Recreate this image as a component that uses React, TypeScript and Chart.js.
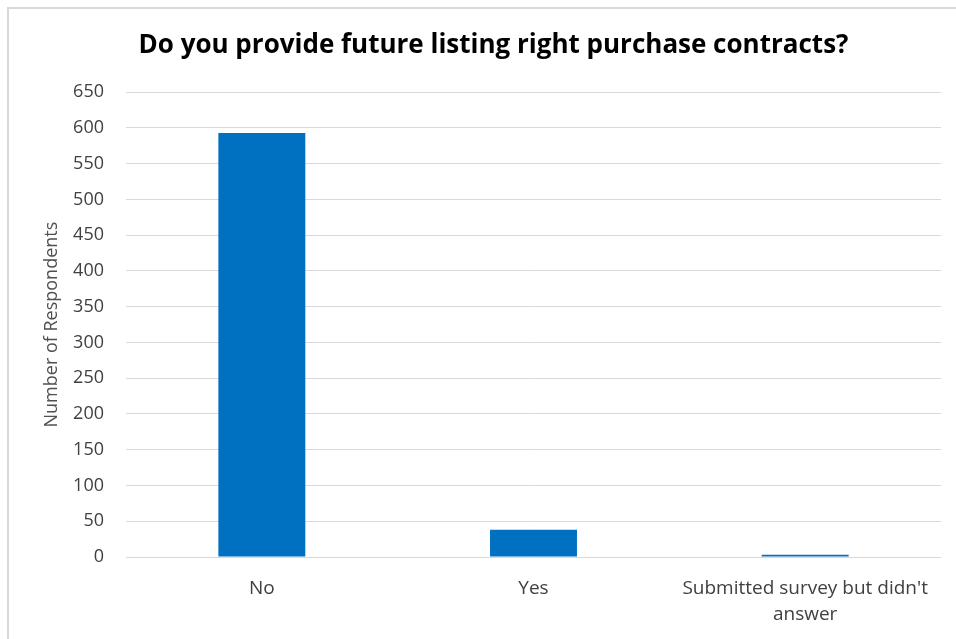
import React, { useEffect, useRef } from "react";
import { Chart, registerables } from "chart.js";

Chart.register(...registerables);

const categories: (string | string[])[] = ["No", "Yes", ["Submitted survey but didn't", "answer"]];
const respondents: number[] = [593, 38, 3];
const chartTitle = "Do you provide future listing right purchase contracts?";
const yAxisTitle = "Number of Respondents";
const yMin = 0;
const yMax = 650;
const yStep = 50;

export default function App() {
  const canvasRef = useRef<HTMLCanvasElement | null>(null);

  useEffect(() => {
    if (!canvasRef.current) return;
    const chart = new Chart(canvasRef.current, {
      type: "bar",
      data: {
        labels: categories,
        datasets: [
          {
            data: respondents,
            backgroundColor: "#0070C0",
            borderWidth: 0,
            barPercentage: 0.32,
            categoryPercentage: 1,
          },
        ],
      },
      options: {
        animation: false,
        responsive: true,
        maintainAspectRatio: false,
        layout: { padding: { left: 46, right: 15, top: 0, bottom: 0 } },
        plugins: {
          legend: { display: false },
          tooltip: { enabled: false },
          title: {
            display: true,
            text: chartTitle,
            color: "#000000",
            font: { family: "'Open Sans', sans-serif", size: 26, weight: "bold", lineHeight: 1.2 },
            padding: { top: 30, bottom: 31 },
          },
        },
        scales: {
          x: {
            grid: { display: false, drawTicks: false },
            border: { display: false },
            ticks: {
              color: "#404040",
              font: { family: "'Open Sans', sans-serif", size: 19, lineHeight: 1.37 },
              padding: 19,
              maxRotation: 0,
              autoSkip: false,
            },
            afterFit: (scale: any) => {
              scale.height = 82;
            },
          },
          y: {
            min: yMin,
            max: yMax,
            ticks: {
              stepSize: yStep,
              color: "#404040",
              font: { family: "'Open Sans', sans-serif", size: 18 },
              padding: 22,
            },
            grid: { color: "#d9d9d9", lineWidth: 1, drawTicks: false },
            border: { display: false },
            title: {
              display: true,
              text: yAxisTitle,
              color: "#505050",
              font: { family: "'Open Sans', sans-serif", size: 18, lineHeight: 1.2 },
              padding: { top: -5, bottom: 0 },
            },
            afterFit: (scale: any) => {
              scale.width = 80;
            },
          },
        },
      },
    });
    return () => chart.destroy();
  }, []);

  return (
    <div style={{ position: "fixed", left: 0, top: 0, width: 956, height: 639, background: "#ffffff", overflow: "hidden" }}>
      <div
        style={{
          position: "absolute",
          left: 7,
          top: 7,
          width: 1000,
          height: 700,
          border: "2px solid #d9d9d9",
          boxSizing: "border-box",
        }}
      />
      <div style={{ position: "absolute", left: 0, top: 0, width: 956, height: 639 }}>
        <canvas ref={canvasRef} />
      </div>
    </div>
  );
}
